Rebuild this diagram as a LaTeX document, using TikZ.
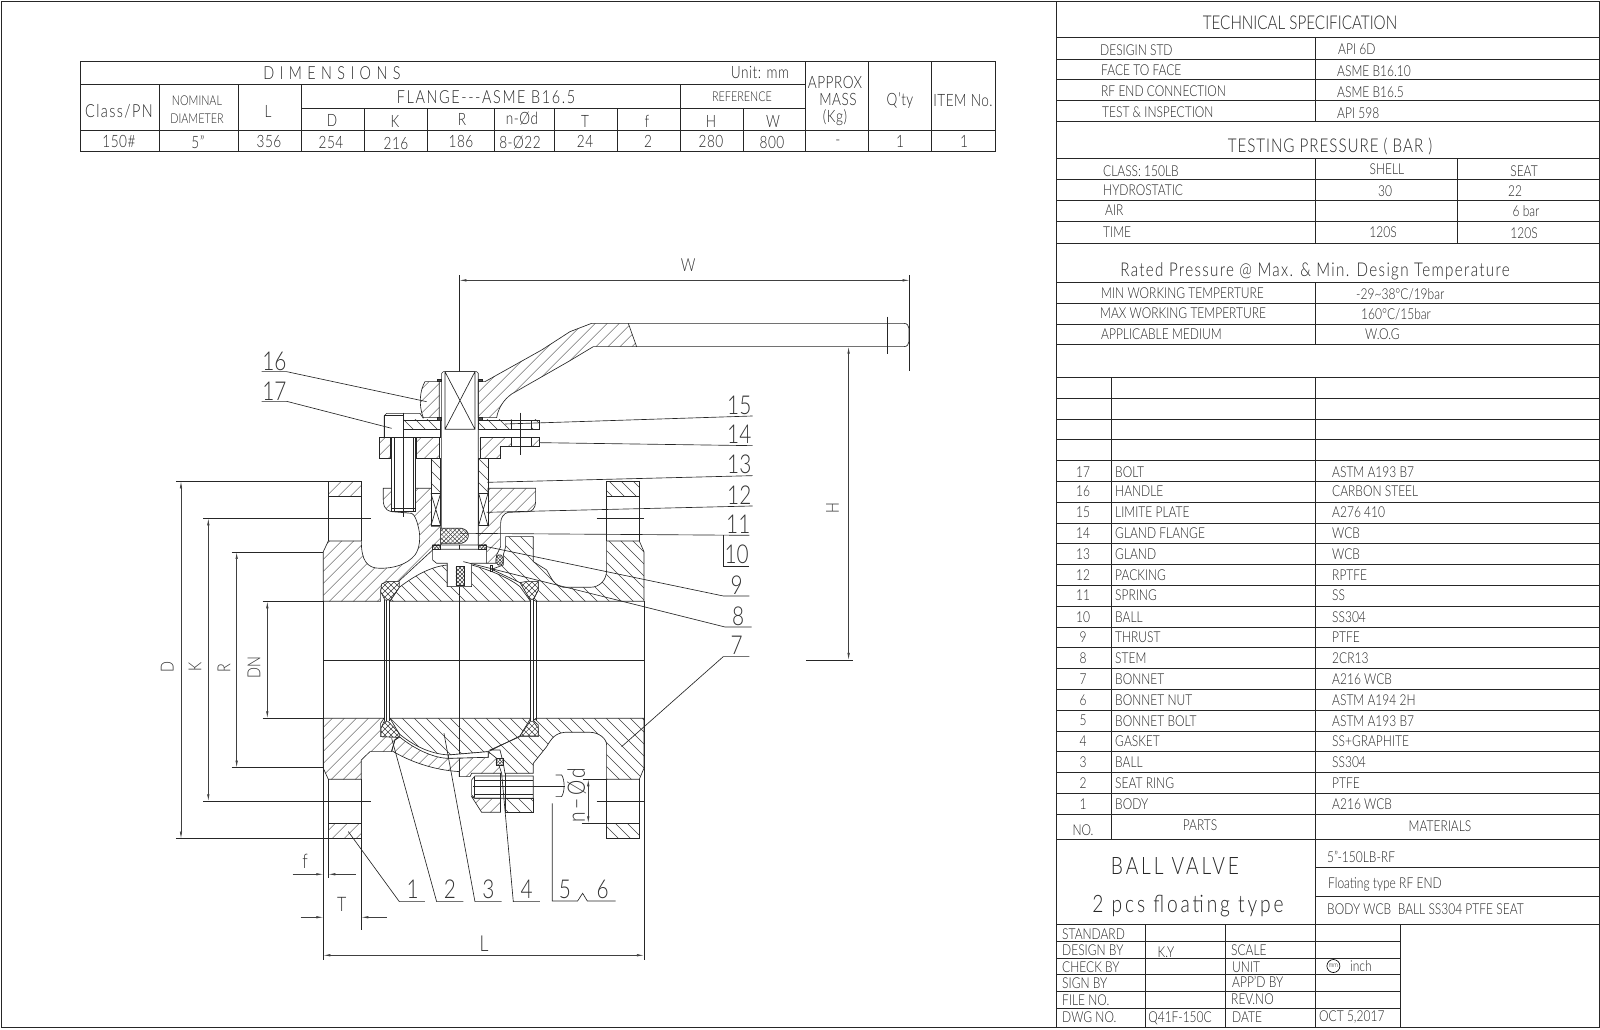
\documentclass[tikz,border=0pt]{standalone}
\usepackage{fontspec}
\setmainfont{Lato Light}[FakeStretch=0.8]
\usetikzlibrary{arrows.meta}
\tikzset{
  ln/.style={line width=.65pt,black!85},
  hl/.style={line width=.45pt,black!75},
  blank/.style={ln,fill=white},
  dimln/.style={line width=.6pt,black!75,{Latex[length=7pt,width=2.4pt]}-{Latex[length=7pt,width=2.4pt]}},
  dimone/.style={line width=.6pt,black!75,-{Latex[length=7pt,width=2.4pt]}},
  tag/.style={inner sep=0,black!80,font=\fontsize{26}{26}\selectfont},
  dimtxt/.style={inner sep=0,black!80,font=\fontsize{18}{18}\selectfont},
  cell/.style={inner sep=0,black!85,font=\fontsize{15}{15}\selectfont},
  cellw/.style={cell,anchor=west},
  head/.style={inner sep=0,black!85,font=\fontsize{19}{19}\selectfont},
}
\newcommand{\hne}[1]{\begin{scope}\clip #1;\foreach \c in {800,836,...,3700} {\draw[hl] (\c,0) -- (0,\c);}\end{scope}\draw[ln] #1;}
\newcommand{\hnw}[1]{\begin{scope}\clip #1;\foreach \c in {-1800,-1764,...,1100} {\draw[hl] (\c,0) -- (\c+2300,2300);}\end{scope}\draw[ln] #1;}
\newcommand{\hcr}[4]{\fill[white] #1;\begin{scope}\clip #1;
  \foreach \c in {#2,#3,...,#4} {\draw[hl] (\c,0) -- (0,\c);\draw[hl] (\c-1200,0) -- (\c+1100,2300);}\end{scope}\draw[ln] #1;}
\begin{document}
\begin{tikzpicture}[x=1pt,y=-1pt]
\useasboundingbox (0,0) rectangle (1600,1029);
\draw[ln] (1,1) rectangle (1599,1027);
\draw[ln] (80,61) rectangle (995,151)
  (80,84) -- (805,84) (301,108) -- (805,108) (80,130) -- (995,130)
  \foreach \x in {159,238,301,680} {(\x,84) -- (\x,151)}
  \foreach \x in {364,427,494,554,617,743} {(\x,108) -- (\x,151)}
  \foreach \x in {805,868,931} {(\x,61) -- (\x,151)};
\node[head,font=\fontsize{18}{18}\selectfont\addfontfeature{LetterSpace=30}] (tDim) at (332,73) {DIMENSIONS};
\foreach \x/\y/\t [count=\i] in {760/73/{Unit: mm},268/111/L,
    835/82/APPROX,838/99/MASS,835/118/(Kg),900/101/Q'ty,963/101/ITEM No.,
    332/120/D,395/121/K,462/119/R,522/119/n-Ød,585/121/T,647/121/f,711/121/H,773/121/W,
    119/141/150\#,198/142/{5''},269/141/356,331/142/254,396/143/216,461/141/186,520/143/8-Ø22,
    585/141/24,648/141/2,711/141/280,772/142/800,838/143/-,900/141/1,964/141/1} {
  \node[cell,font=\fontsize{17}{17}\selectfont\addfontfeature{LetterSpace=3}] (tA\i) at (\x,\y) {\t};
}
\node[cell,font=\fontsize{18}{18}\selectfont\addfontfeature{LetterSpace=8}] (tClass) at (119,111) {Class/PN};
\node[cell,font=\fontsize{18}{18}\selectfont\addfontfeature{LetterSpace=9}] (tFlange) at (486,97) {FLANGE-{}-{}-ASME B16.5};
\foreach \x/\y/\t [count=\i] in {197/101/NOMINAL,197/119/DIAMETER,742/97/REFERENCE} {
  \node[cell,font=\fontsize{13.5}{13.5}\selectfont] (tB\i) at (\x,\y) {\t};
}

\draw[ln] (1056,1) -- (1056,1027) (1056,1027) -- (1600,1027)
  \foreach \y in {37.7,59,79.7,100.3,121.3,158.7,179.7,200.3,221.3,243.3,282.7,303.3,324,344.3,839.3,924.7} {(1056,\y) -- (1600,\y)}
  \foreach \k in {0,...,21} {(1056,{377.3+20.8*\k}) -- (1600,{377.3+20.8*\k})}
  (1315,867.3) -- (1600,867.3) (1315,896) -- (1600,896)
  \foreach \y in {941.3,958.3,974.7,991.7,1008.3} {(1056,\y) -- (1400,\y)}
  (1315,37.7) -- (1315,121.3) (1315,158.7) -- (1315,243.3) (1457.6,158.7) -- (1457.6,243.3)
  (1315,282.7) -- (1315,344.3) (1315,377.3) -- (1315,1027) (1111,377.3) -- (1111,839.3)
  \foreach \x in {1145,1225,1400} {(\x,924.7) -- (\x,1027)};
\node[head] (tSpec) at (1300,23) {TECHNICAL SPECIFICATION};
\node[head,font=\fontsize{19}{19}\selectfont\addfontfeature{LetterSpace=5}] (tTest) at (1330,147) {TESTING PRESSURE ( BAR )};
\node[head,font=\fontsize{19}{19}\selectfont\addfontfeature{LetterSpace=7}] (tRated) at (1315,271) {Rated Pressure @ Max. \& Min. Design Temperature};
\foreach \x/\y/\t [count=\i] in {1100/50/DESIGIN STD,1101/70/FACE TO FACE,1101/91/RF END CONNECTION,1102/112/TEST \& INSPECTION,
    1338/49/API 6D,1337/71/ASME B16.10,1337/92/ASME B16.5,1337/113/API 598,
    1103/171/{CLASS: 150LB},1103/190/HYDROSTATIC,1105/210/AIR,1103/232/TIME,
    1101/293/MIN WORKING TEMPERTURE,1100/313/MAX WORKING TEMPERTURE,1101/334/APPLICABLE MEDIUM,
    1356/294/{-29\textasciitilde 38°C/19bar},1361/314/{160°C/15bar},1365/334/W.O.G,
    1327/857/{5''-150LB-RF},1328/884/Floating type RF END,1327/909/{BODY WCB\ \ BALL SS304 PTFE SEAT},
    1062/934/STANDARD,1062/950/DESIGN BY,1062/967/CHECK BY,1062/983/SIGN BY,1062/1000/FILE NO.,1062/1017/DWG NO.,
    1231/950/SCALE,1232/967/UNIT,1232/982/APP'D BY,1231/999/REV.NO,1232/1017/DATE,1319/1017/{OCT 5,2017},1350/966/inch} {
  \node[cellw] (tC\i) at (\x,\y) {\t};
}
\foreach \x/\y/\t [count=\i] in {1387/169/SHELL,1524/171/SEAT,1385/191/30,1515/191/22,1526/211/6 bar,1383/232/120S,1524/233/120S,
    1083/830/NO.,1200/825/PARTS,1440/826/MATERIALS,1166/952/K.Y,1180/1018/Q41F-150C} {
  \node[cell] (tD\i) at (\x,\y) {\t};
}
\node[head,font=\fontsize{24}{24}\selectfont\addfontfeature{LetterSpace=12}] (tBall) at (1175,866) {BALL VALVE};
\node[head,font=\fontsize{24}{24}\selectfont\addfontfeature{LetterSpace=12}] (tPcs) at (1188,906) {2 pcs floating type};
\node[circle,draw,line width=.65pt,inner sep=0,minimum size=13pt,font=\fontsize{7}{7}\selectfont] (tMm) at (1333.4,966) {mm};
\foreach \n/\yy/\p/\m in {17/471.7/BOLT/ASTM A193 B7,16/491/HANDLE/CARBON STEEL,15/512.3/LIMITE PLATE/A276 410,14/533.3/GLAND FLANGE/WCB,
    13/554/GLAND/WCB,12/574.7/PACKING/RPTFE,11/595.3/SPRING/SS,10/616.7/BALL/SS304,9/637/THRUST/PTFE,8/658/STEM/2CR13,7/678.7/BONNET/A216 WCB,
    6/700/BONNET NUT/ASTM A194 2H,5/720.7/BONNET BOLT/ASTM A193 B7,4/741.3/GASKET/SS+GRAPHITE,3/762.3/BALL/SS304,2/783/SEAT RING/PTFE,1/804/BODY/A216 WCB} {
  \node[cell] (no\n) at (1083,\yy) {\n};
  \node[cellw] (pt\n) at (1115,\yy) {\p};
  \node[cellw] (mt\n) at (1332,\yy) {\m};
}

\begin{scope}[shift={(150pt,-250pt)},x=.3333pt,y=-.3333pt]
\draw[ln] (928,75) -- (928,1580) (520,1230) -- (1482,1230);
\draw[ln] (520,1054) -- (520,2130) (1482,1054) -- (1482,2130) (535,1766) -- (535,1885) (634,1588) -- (634,2040);
\draw[ln] (160,805) -- (663,805) (160,1654) -- (663,1654) (1340,805) -- (1482,805) (1340,1654) -- (1482,1654);
\draw[ln] \foreach \x in {535,634,1370,1468} {(\x,740) -- (\x,873) (\x,1588) -- (\x,1720)};
\draw[ln] \foreach \x in {702,710,718,1142,1150,1158} {(\x,1050) -- (\x,1412)};
\hne{(535,694) rectangle (634,740)}
\hne{(535,1720) rectangle (634,1766)}
\hnw{(1370,694) rectangle (1468,740)}
\hnw{(1370,1720) rectangle (1468,1766)}
\hne{(520,1054) -- (520,905) -- (535,873) -- (634,873) .. controls (634,930) and (650,955) .. (690,955)
  .. controls (730,955) and (770,945) .. (795,915) .. controls (810,895) and (812,860) .. (806,835)
  .. controls (800,810) and (795,795) .. (785,790) -- (725,785) .. controls (700,780) and (700,760) .. (700,750)
  -- (700,715) -- (845,715) -- (845,830) -- (872,830) -- (872,885) -- (848,885) -- (848,900) -- (745,995)
  -- (710,995) -- (692,1020) -- (692,1054) -- cycle}
\hnw{(1482,1054) -- (1482,905) -- (1468,873) -- (1370,873) -- (1370,960) .. controls (1370,990) and (1350,1012) .. (1320,1012)
  -- (1240,1012) .. controls (1210,1005) and (1205,985) .. (1190,960) -- (1150,935) -- (1150,860) -- (1067,860) -- (1067,890)
  -- (1060,915) -- (1060,945) -- (1025,958) -- (1110,998) -- (1165,995) -- (1165,1020) -- (1150,1050) -- (1158,1054) -- cycle}
\hnw{(720,1054) -- (748,1012) .. controls (790,980) and (840,950) .. (892,945) -- (892,1010) -- (965,1010) -- (965,945)
  .. controls (1020,960) and (1080,985) .. (1110,1010) -- (1142,1054) -- cycle}
\hne{(1014,730) -- (1014,715) -- (1157,715) -- (1157,755) .. controls (1157,775) and (1145,785) .. (1135,785) -- (1075,787)
  .. controls (1060,790) and (1052,805) .. (1052,820) -- (1052,890) -- (1040,915) -- (1038,940) -- (1010,940) -- (1010,885)
  -- (986,885) -- (986,827) -- (1014,827) -- cycle}
\draw[blank] (848,898) -- (1010,898) -- (1010,940) -- (965,940) -- (965,1010) -- (892,1010) -- (892,940) -- (860,940) -- (848,930) -- cycle;
\hcr{(848,885) rectangle (872,898)}{0}{10}{3700}
\hcr{(986,885) rectangle (1010,898)}{0}{10}{3700}
\hcr{(1038,925) -- (1045,915) -- (1053,915) -- (1060,925) -- (1060,937) -- (1053,945) -- (1045,945) -- (1038,937) -- cycle}{0}{10}{3700}
\hcr{(918,950) rectangle (942,1005)}{0}{12}{3700}
\draw[ln] (1020,945) rectangle (1026,965);
\hcr{(695,1002) -- (710,995) -- (748,995) -- (748,1012) -- (722,1050) -- (705,1050) -- (692,1025) -- cycle}{0}{18}{3700}
\hcr{(1110,998) -- (1125,995) -- (1165,995) -- (1165,1020) -- (1150,1048) -- (1140,1048) -- cycle}{0}{18}{3700}

\hne{(520,1405) -- (702,1405) -- (692,1420) -- (692,1460) -- (748,1462) -- (735,1470) -- (725,1505) -- (660,1505) -- (634,1530)
  -- (634,1588) -- (535,1588) -- (520,1555) -- cycle}
\hnw{(1158,1405) -- (1482,1405) -- (1482,1555) -- (1468,1588) -- (1370,1588) -- (1370,1485) .. controls (1370,1465) and (1345,1447) .. (1320,1447)
  -- (1245,1447) .. controls (1215,1450) and (1205,1465) .. (1190,1490) -- (1150,1540) -- (1150,1570) -- (1065,1570) -- (1060,1540) -- (1050,1500)
  -- (1020,1500) -- (1110,1460) -- (1165,1460) -- (1165,1425) -- (1150,1412) -- cycle}
\hne{(748,1460) .. controls (790,1495) and (850,1525) .. (895,1525) -- (1015,1522) -- (1015,1505) -- (1040,1525) -- (1055,1570) -- (965,1570)
  -- (960,1580) -- (928,1580) -- (928,1565) .. controls (850,1560) and (780,1535) .. (725,1502) -- (735,1470) -- cycle}
\hnw{(720,1405) -- (748,1452) .. controls (800,1495) and (850,1512) .. (895,1515) -- (1015,1505) -- (1110,1458) -- (1142,1405) -- cycle}
\draw[blank] (895,1515) -- (895,1525) -- (1015,1522) -- (1015,1505) -- cycle;
\hcr{(693,1460) -- (693,1435) -- (702,1415) -- (715,1415) -- (748,1450) -- (748,1462) -- cycle}{0}{18}{3700}
\hcr{(1110,1458) -- (1165,1458) -- (1165,1435) -- (1150,1415) -- (1140,1415) -- cycle}{0}{18}{3700}
\hcr{(1038,1525) rectangle (1060,1545)}{0}{10}{3700}
\draw[blank] (975,1578) -- (1150,1578) -- (1150,1645) -- (975,1645) -- (965,1635) -- (965,1590) -- cycle;
\draw[ln] (975,1590) -- (1150,1590) (975,1634) -- (1150,1634) (972,1580) -- (972,1640);
\hne{(965,1640) -- (995,1687) -- (1052,1687) -- (1052,1645) -- (975,1645) -- cycle}
\hnw{(1065,1645) rectangle (1150,1687)}
\draw[ln] (1052,1570) -- (1052,1687) (1065,1570) -- (1065,1687) (970,1610) -- (1245,1610);
\draw[ln] (1217,1575) -- (1235,1575) .. controls (1245,1590) and (1245,1625) .. (1235,1640) -- (1217,1640);

\draw[blank] (875,370) -- (880,365) -- (980,365) -- (985,370) -- (985,885) -- (875,885) -- cycle;
\draw[ln] (885,365) rectangle (975,538) (885,365) -- (975,538) (975,365) -- (885,538);
\hne{(985,395) -- (1005,395) -- (1175,300) -- (1260,245) -- (1325,220) -- (1435,220) -- (1460,290) -- (1330,290) -- (1255,335)
  -- (1085,432) .. controls (1060,450) and (1045,475) .. (1040,503) -- (985,503) -- cycle}
\hne{(868,395) -- (825,395) .. controls (810,420) and (805,465) .. (820,503) -- (868,503) -- cycle}
\draw[ln] (1435,220) -- (2262,220) .. controls (2272,220) and (2277,228) .. (2277,235) -- (2277,275) .. controls (2277,282) and (2272,290) .. (2262,290) -- (1460,290);
\draw[ln] (2213,200) -- (2213,312);
\draw[ln,fill=black!70] (862,388) rectangle (875,395) (862,503) rectangle (875,510) (985,388) rectangle (998,395) (985,503) rectangle (998,510);

\draw[ln] (710,490) -- (810,490) -- (820,505) (703,562) -- (703,497) -- (710,490);
\draw[blank] (703,495) rectangle (760,562);
\hnw{(760,510) rectangle (872,538)}
\draw[blank] (760,538) rectangle (872,562);
\hne{(688,562) rectangle (722,625)}
\hne{(798,562) rectangle (867,625)}
\draw[blank] (725,562) rectangle (797,785);
\draw[ln] (732,562) -- (732,785) (790,562) -- (790,785) (725,775) -- (797,775) (760,488) -- (760,800);
\hnw{(843,625) rectangle (872,730)}
\hnw{(986,625) rectangle (1014,730)}
\draw[blank] (843,730) rectangle (872,827);
\draw[blank] (986,730) rectangle (1014,827);
\draw[ln] (843,730) -- (872,827) (872,730) -- (843,827) (986,730) -- (1014,827) (1014,730) -- (986,827);
\hnw{(986,510) rectangle (1085,538)}
\hnw{(1143,510) rectangle (1168,538)}
\hne{(990,562) -- (1085,562) -- (1085,590) -- (1050,590) -- (1050,625) -- (990,625) -- cycle}
\hne{(1143,562) rectangle (1168,590)}
\draw[ln] (1085,510) -- (1143,510) (1085,538) -- (1143,538) (1085,562) -- (1143,562) (1085,590) -- (1143,590) (1111,488) -- (1111,615);
\hcr{(872,835) -- (935,835) .. controls (962,840) and (962,872) .. (935,880) -- (872,880) -- cycle}{0}{13}{3700}

\foreach \n/\ax/\ay/\mx/\my/\bx/\by/\tx/\ty in {16/335/365/410/365/830/455/373/335,17/335/454/410/454/725/535/373/425,
    15/1808/498/1808/498/1065/522/1768/465,14/1808/587/1808/587/1168/578/1768/553,13/1808/677/1808/677/1012/697/1768/642,
    12/1808/768/1808/768/1010/787/1768/735,11/1798/856/1798/856/930/850/1765/823,
    9/1798/1038/1720/1038/1010/890/1760/1005,8/1805/1131/1725/1131/940/935/1765/1098,7/1798/1220/1720/1220/1415/1490/1760/1185,
    1/825/1955/748/1955/595/1745/788/1918,2/940/1955/860/1955/725/1465/900/1918,3/1055/1955/975/1955/882/1450/1015/1918,4/1170/1955/1090/1955/1055/1570/1130/1918} {
  \coordinate (a\n) at (\ax,\ay);
  \coordinate (m\n) at (\mx,\my);
  \coordinate (b\n) at (\bx,\by);
  \node[tag] (n\n) at (\tx,\ty) {\n};
  \draw[ln] (a\n) -- (m\n) -- (b\n);
}
\node[tag] (n10) at (1760,914) {10};
\coordinate (a10) at (1721,856);
\coordinate (m10) at (1721,948);
\coordinate (b10) at (1798,948);
\draw[ln] (a10) -- (m10) -- (b10);
\node[tag] (n5) at (1245,1918) {5};
\node[tag] (n6) at (1358,1918) {6};
\coordinate (a5) at (1207,1660);
\coordinate (b6) at (1397,1953);
\draw[ln] (a5) -- (1207,1953) -- (1283,1953) -- (1298,1930) -- (1312,1953) -- (b6);

\draw[ln] (78,694) -- (535,694) (78,1766) -- (535,1766) (245,906) -- (520,906) (245,1553) -- (520,1553) (338,1054) -- (520,1054) (338,1405) -- (520,1405);
\draw[ln] (1300,1588) -- (1370,1588) (1295,1720) -- (1370,1720);
\foreach \t/\x/\ya/\yb/\tx/\ty in {D/93/694/1766/52/1250,K/175/805/1654/135/1250,R/260/906/1553/222/1255,DN/352/1054/1405/312/1253,H/2096/290/1230/2048/774} {
  \coordinate (d\t a) at (\x,\ya);
  \coordinate (d\t b) at (\x,\yb);
  \draw[dimln] (d\t a) -- (d\t b);
  \node[dimtxt,rotate=90] (dt\t) at (\tx,\ty) {\t};
}
\coordinate (dNa) at (1315,1588);
\coordinate (dNb) at (1315,1720);
\draw[dimln] (dNa) -- (dNb);
\node[tag,font=\fontsize{24}{24}\selectfont\addfontfeature{LetterSpace=10},rotate=90] (dtN) at (1280,1635) {n−Ød};
\draw[ln] (1968,1230) -- (2109,1230);
\draw[ln] (2279,75) -- (2279,363);
\coordinate (dWa) at (928,91);
\coordinate (dWb) at (2279,91);
\draw[dimln] (dWa) -- (dWb);
\node[dimtxt] (dtW) at (1615,45) {W};
\coordinate (dLa) at (520,2116);
\coordinate (dLb) at (1482,2116);
\draw[dimln] (dLa) -- (dLb);
\node[dimtxt,font=\fontsize{22}{22}\selectfont] (dtL) at (1002,2082) {L};
\coordinate (dTa) at (452,2002);
\coordinate (dTb) at (520,2002);
\coordinate (dTc) at (710,2002);
\coordinate (dTd) at (634,2002);
\draw[dimone] (dTa) -- (dTb);
\draw[dimone] (dTc) -- (dTd);
\node[dimtxt,font=\fontsize{20}{20}\selectfont] (dtT) at (575,1963) {T};
\coordinate (dFa) at (428,1873);
\coordinate (dFb) at (520,1873);
\coordinate (dFc) at (618,1873);
\coordinate (dFd) at (535,1873);
\draw[dimone] (dFa) -- (dFb);
\draw[dimone] (dFc) -- (dFd);
\node[dimtxt,font=\fontsize{20}{20}\selectfont] (dtF) at (465,1835) {f};
\end{scope}
\end{tikzpicture}
\end{document}
